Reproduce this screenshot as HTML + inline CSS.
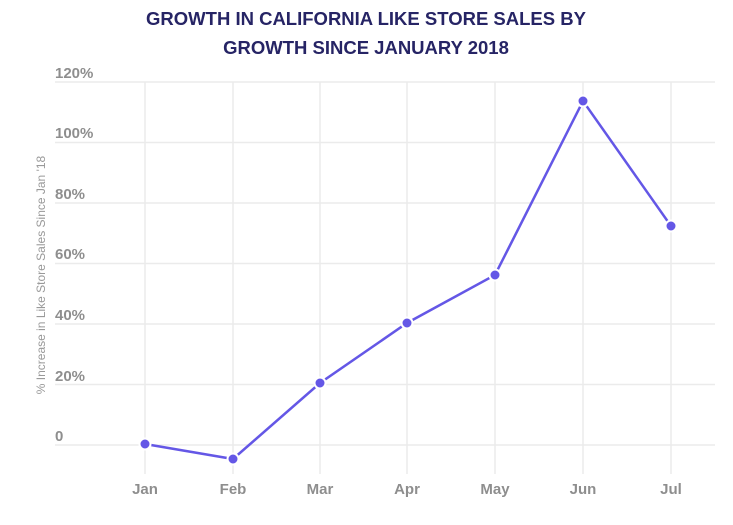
<!DOCTYPE html>
<html><head><meta charset="utf-8"><style>
body{margin:0;background:#fff;width:733px;height:525px;overflow:hidden}
svg{display:block}
text{font-family:"Liberation Sans","DejaVu Sans",sans-serif}
</style></head><body>
<svg width="733" height="525" viewBox="0 0 733 525">
<text x="366" y="25" text-anchor="middle" font-size="18.5" font-weight="bold" fill="#262465">GROWTH IN CALIFORNIA LIKE STORE SALES BY</text>
<text x="366" y="54" text-anchor="middle" font-size="18.5" font-weight="bold" fill="#262465">GROWTH SINCE JANUARY 2018</text>
<g stroke="#ebebeb" stroke-width="1.5">
<line x1="55" y1="82" x2="715" y2="82"/><line x1="55" y1="142.5" x2="715" y2="142.5"/><line x1="55" y1="203" x2="715" y2="203"/><line x1="55" y1="263.5" x2="715" y2="263.5"/><line x1="55" y1="324" x2="715" y2="324"/><line x1="55" y1="384.5" x2="715" y2="384.5"/><line x1="55" y1="445" x2="715" y2="445"/>
<line x1="145" y1="82" x2="145" y2="474"/><line x1="233" y1="82" x2="233" y2="474"/><line x1="320" y1="82" x2="320" y2="474"/><line x1="407" y1="82" x2="407" y2="474"/><line x1="495" y1="82" x2="495" y2="474"/><line x1="583" y1="82" x2="583" y2="474"/><line x1="671" y1="82" x2="671" y2="474"/>
</g>
<g font-size="15" font-weight="bold" fill="#8e8e8e">
<text x="55" y="78">120%</text><text x="55" y="138">100%</text><text x="55" y="199">80%</text><text x="55" y="259">60%</text><text x="55" y="320">40%</text><text x="55" y="381">20%</text><text x="55" y="441">0</text>
<g text-anchor="middle"><text x="145" y="494">Jan</text><text x="233" y="494">Feb</text><text x="320" y="494">Mar</text><text x="407" y="494">Apr</text><text x="495" y="494">May</text><text x="583" y="494">Jun</text><text x="671" y="494">Jul</text></g>
</g>
<text transform="translate(45,275) rotate(-90)" text-anchor="middle" font-size="12" fill="#999">% Increase in Like Store Sales Since Jan '18</text>
<polyline fill="none" stroke="#6457e6" stroke-width="2.5" points="145,444 233,459 320,383 407,323 495,275 583,101 671,226"/>
<g fill="#6457e6" stroke="#fff" stroke-width="2">
<circle cx="145" cy="444" r="5.5"/><circle cx="233" cy="459" r="5.5"/><circle cx="320" cy="383" r="5.5"/><circle cx="407" cy="323" r="5.5"/><circle cx="495" cy="275" r="5.5"/><circle cx="583" cy="101" r="5.5"/><circle cx="671" cy="226" r="5.5"/>
</g>
</svg>
</body></html>
